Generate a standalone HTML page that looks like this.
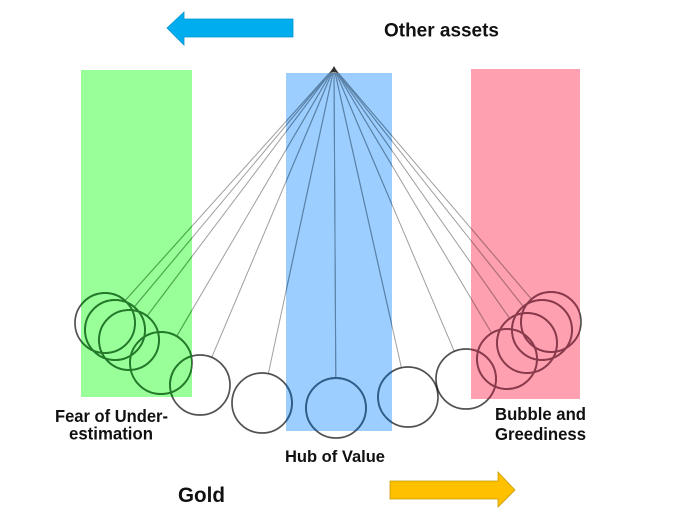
<!DOCTYPE html>
<html>
<head>
<meta charset="utf-8">
<style>
  html, body { margin: 0; padding: 0; background: #ffffff; }
  svg { display: block; }
  text { font-family: "Liberation Sans", Arial, sans-serif; font-weight: bold; fill: #111; }
</style>
</head>
<body>
<svg width="696" height="516" viewBox="0 0 696 516" xmlns="http://www.w3.org/2000/svg">
  <defs>
    <clipPath id="cg"><rect x="81" y="70" width="111" height="327"/></clipPath>
    <clipPath id="cb"><rect x="286" y="73" width="106" height="358"/></clipPath>
    <clipPath id="cp"><rect x="471" y="69" width="109" height="330"/></clipPath>
    <g id="strings">
      <line x1="334" y1="68" x2="125.0" y2="300.7"/>
      <line x1="334" y1="68" x2="134.2" y2="307.0"/>
      <line x1="334" y1="68" x2="147.1" y2="316.0"/>
      <line x1="334" y1="68" x2="176.7" y2="336.2"/>
      <line x1="334" y1="68" x2="211.7" y2="357.4"/>
      <line x1="334" y1="68" x2="268.3" y2="373.7"/>
      <line x1="334" y1="68" x2="335.8" y2="378"/>
      <line x1="334" y1="68" x2="401.4" y2="367.7"/>
      <line x1="334" y1="68" x2="454.3" y2="351.4"/>
      <line x1="334" y1="68" x2="491.7" y2="333.2"/>
      <line x1="334" y1="68" x2="509.8" y2="318.5"/>
      <line x1="334" y1="68" x2="523.3" y2="306.5"/>
      <line x1="334" y1="68" x2="531.5" y2="299.2"/>
    </g>
    <g id="balls">
      <circle cx="105" cy="323" r="30"/>
      <circle cx="115" cy="330" r="30"/>
      <circle cx="129" cy="340" r="30"/>
      <circle cx="161" cy="363" r="31"/>
      <circle cx="200" cy="385" r="30"/>
      <circle cx="262" cy="403" r="30"/>
      <circle cx="336" cy="408" r="30"/>
      <circle cx="408" cy="397" r="30"/>
      <circle cx="466" cy="379" r="30"/>
      <circle cx="507" cy="359" r="30"/>
      <circle cx="527" cy="343" r="30"/>
      <circle cx="542" cy="330" r="30"/>
      <circle cx="551" cy="322" r="30"/>
    </g>
  </defs>
  <rect x="0" y="0" width="696" height="516" fill="#ffffff"/>

  <!-- colored bands -->
  <rect x="81" y="70" width="111" height="327" fill="#99ff99"/>
  <rect x="286" y="73" width="106" height="358" fill="#9ccfff"/>
  <rect x="471" y="69" width="109" height="330" fill="#ffa0b0"/>

  <!-- blue arrow (left) -->
  <polygon points="167,28 184,12 184,19 293,19 293,37 184,37 184,45" fill="#00adef" stroke="#0a94cc" stroke-width="0.8"/>
  <!-- yellow arrow (right) -->
  <polygon points="390,481 498,481 498,472 515,490 498,507 498,499 390,499" fill="#ffc000" stroke="#c99a00" stroke-width="0.8"/>

  <!-- strings: base gray -->
  <use href="#strings" stroke="rgba(0,0,0,0.38)" stroke-width="1" fill="none"/>
  <!-- tinted within bands -->
  <g clip-path="url(#cg)"><use href="#strings" stroke="#4caa4c" stroke-width="1.1" fill="none"/></g>
  <g clip-path="url(#cb)"><use href="#strings" stroke="#5a82a8" stroke-width="1.1" fill="none"/></g>
  <g clip-path="url(#cp)"><use href="#strings" stroke="#b0707c" stroke-width="1.1" fill="none"/></g>
  <polygon points="330.5,72 334,66 337.5,72" fill="#333"/>

  <!-- balls: base gray -->
  <use href="#balls" stroke="rgba(0,0,0,0.68)" stroke-width="1.7" fill="none"/>
  <!-- tinted within bands -->
  <g clip-path="url(#cg)"><use href="#balls" stroke="#237a2a" stroke-width="1.9" fill="none"/></g>
  <g clip-path="url(#cb)"><use href="#balls" stroke="#2f5f8a" stroke-width="1.9" fill="none"/></g>
  <g clip-path="url(#cp)"><use href="#balls" stroke="#8a3a4c" stroke-width="1.9" fill="none"/></g>

  <!-- labels -->
  <text x="384" y="36.5" font-size="19" textLength="115" lengthAdjust="spacingAndGlyphs">Other assets</text>
  <text x="55" y="422" font-size="17.5" textLength="113" lengthAdjust="spacingAndGlyphs">Fear of Under-</text>
  <text x="69" y="439.5" font-size="17.5" textLength="84" lengthAdjust="spacingAndGlyphs">estimation</text>
  <text x="495" y="420" font-size="17.2" textLength="91" lengthAdjust="spacingAndGlyphs">Bubble and</text>
  <text x="495" y="440" font-size="17.2" textLength="91" lengthAdjust="spacingAndGlyphs">Greediness</text>
  <text x="285" y="462" font-size="16.8" textLength="100" lengthAdjust="spacingAndGlyphs">Hub of Value</text>
  <text x="178" y="502" font-size="21" textLength="47" lengthAdjust="spacingAndGlyphs">Gold</text>
</svg>
</body>
</html>
